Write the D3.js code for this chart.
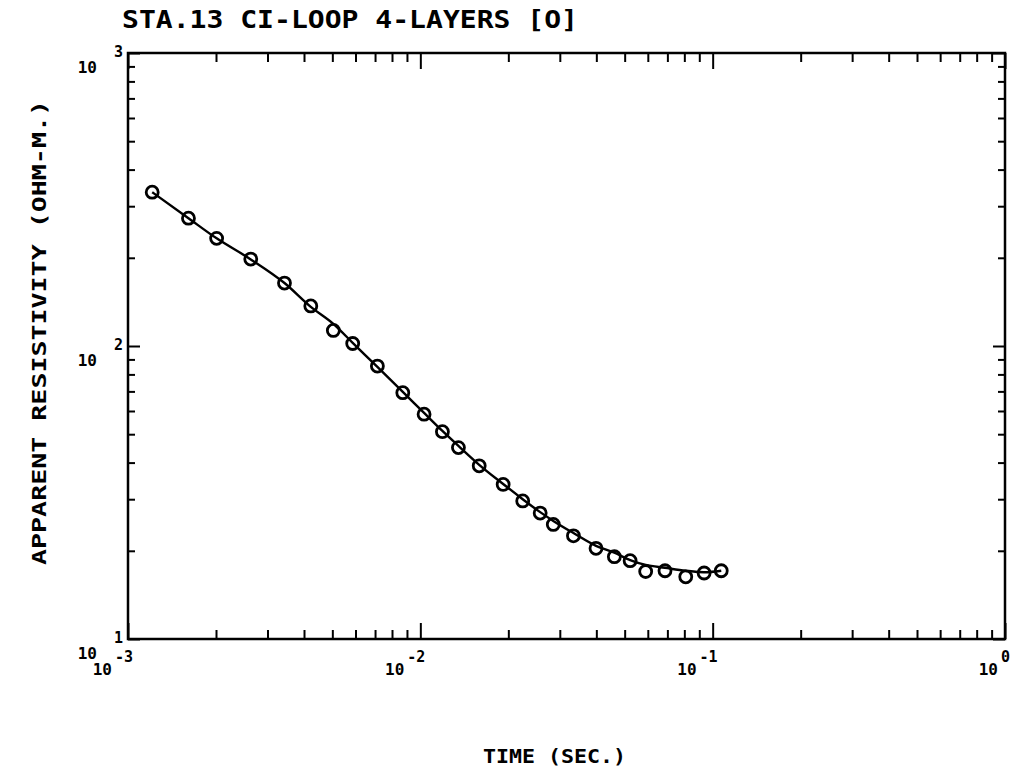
<!DOCTYPE html>
<html>
<head>
<meta charset="utf-8">
<script src="https://cdn.jsdelivr.net/npm/d3@7"></script>
<style>
  html, body { margin: 0; padding: 0; background: #fff; }
  svg { display: block; }
  text { font-family: "DejaVu Sans Mono", "Liberation Mono", monospace; font-weight: bold; fill: #000; }
</style>
</head>
<body>
<svg id="chart" width="1013" height="767"></svg>
<script>
// ---- data ----
const titleText = "STA.13 CI-LOOP 4-LAYERS [O]";
const xLabelText = "TIME (SEC.)";
const yLabelText = "APPARENT RESISTIVITY (OHM-M.)";

// observed sounding points: time (s) and apparent resistivity (ohm-m)
const obsTime = [0.00121, 0.00161, 0.00201, 0.00263, 0.00343, 0.00422, 0.00504, 0.00587, 0.00713,
                 0.00871, 0.0103, 0.0119, 0.0135, 0.0159, 0.0192, 0.0224, 0.0257, 0.0285, 0.0334,
                 0.0399, 0.0461, 0.0522, 0.0590, 0.0687, 0.0809, 0.0935, 0.107];
const obsRho  = [335, 273, 233, 198, 164, 137, 113, 102, 85.4,
                 69.3, 58.5, 51.0, 45.0, 39.0, 33.7, 29.6, 26.9, 24.6, 22.5,
                 20.4, 19.1, 18.5, 17.0, 17.1, 16.3, 16.8, 17.1];
// fitted 4-layer model curve
const fitTime = obsTime;
const fitRho  = [335, 273, 233, 197.5, 164, 136, 119, 102.5, 84.8,
                 69.7, 59.1, 51.3, 45.6, 39.3, 33.8, 30.0, 27.1, 25.3, 23.0,
                 20.8, 19.7, 18.6, 17.9, 17.5, 17.1, 16.9, 17.1];

// axis ticks
const xDecades = [1e-3, 1e-2, 1e-1, 1];
const xExponents = ["-3", "-2", "-1", "0"];
const yDecades = [10, 100, 1000];
const yExponents = ["1", "2", "3"];

// ---- layout ----
const L = 128, R = 1005, T = 53, B = 639;
const svg = d3.select("#chart");

const x = d3.scaleLog().domain([1e-3, 1]).range([L, R]);
const y = d3.scaleLog().domain([10, 1000]).range([B, T]);

function minorTicks(decades) {
  const out = [];
  for (let i = 0; i < decades.length - 1; i++)
    for (let k = 2; k <= 9; k++) out.push(decades[i] * k);
  return out;
}
const xMinor = minorTicks(xDecades);
const yMinor = minorTicks(yDecades);

function styleAxis(g) {
  g.select(".domain").remove();
  g.selectAll(".tick line").attr("stroke", "#000").attr("stroke-width", 2);
  g.selectAll(".tick text").remove();
}

// bottom / top axes (ticks pointing inward)
svg.append("g").attr("transform", `translate(0,${B})`)
  .call(d3.axisBottom(x).tickValues(xMinor).tickSize(-9).tickFormat("")).call(styleAxis);
svg.append("g").attr("transform", `translate(0,${B})`)
  .call(d3.axisBottom(x).tickValues(xDecades).tickSize(-16).tickFormat("")).call(styleAxis);
svg.append("g").attr("transform", `translate(0,${T})`)
  .call(d3.axisTop(x).tickValues(xMinor).tickSize(-9).tickFormat("")).call(styleAxis);
svg.append("g").attr("transform", `translate(0,${T})`)
  .call(d3.axisTop(x).tickValues(xDecades).tickSize(-16).tickFormat("")).call(styleAxis);
// left / right axes
svg.append("g").attr("transform", `translate(${L},0)`)
  .call(d3.axisLeft(y).tickValues(yMinor).tickSize(-7).tickFormat("")).call(styleAxis);
svg.append("g").attr("transform", `translate(${L},0)`)
  .call(d3.axisLeft(y).tickValues(yDecades).tickSize(-12).tickFormat("")).call(styleAxis);
svg.append("g").attr("transform", `translate(${R},0)`)
  .call(d3.axisRight(y).tickValues(yMinor).tickSize(-7).tickFormat("")).call(styleAxis);
svg.append("g").attr("transform", `translate(${R},0)`)
  .call(d3.axisRight(y).tickValues(yDecades).tickSize(-12).tickFormat("")).call(styleAxis);

// frame
svg.append("rect").attr("x", L).attr("y", T).attr("width", R - L).attr("height", B - T)
  .attr("fill", "none").attr("stroke", "#000").attr("stroke-width", 2.5);

// x tick labels: "10" with exponent
xDecades.forEach((v, i) => {
  const px = x(v);
  const e = svg.append("text").attr("x", px + 5).attr("y", 662)
    .attr("text-anchor", "end").attr("font-size", 15).text(xExponents[i]);
  const w = e.node().getComputedTextLength();
  svg.append("text").attr("x", px + 5 - w - 3).attr("y", 675)
    .attr("text-anchor", "end").attr("font-size", 16).text("10");
});
// y tick labels
yDecades.forEach((v, i) => {
  const py = y(v);
  svg.append("text").attr("x", 123).attr("y", py + 4)
    .attr("text-anchor", "end").attr("font-size", 15).text(yExponents[i]);
  svg.append("text").attr("x", 97).attr("y", py + 20)
    .attr("text-anchor", "end").attr("font-size", 16).text("10");
});

// title
svg.append("text").attr("x", 122).attr("y", 28).attr("font-size", 25)
  .attr("textLength", 456).attr("lengthAdjust", "spacingAndGlyphs").text(titleText);
// x axis label
svg.append("text").attr("x", 483).attr("y", 763).attr("font-size", 19)
  .attr("textLength", 143).attr("lengthAdjust", "spacingAndGlyphs").text(xLabelText);
// y axis label
svg.append("text").attr("transform", "translate(46,565) rotate(-90)")
  .attr("x", 0).attr("y", 0).attr("font-size", 19)
  .attr("textLength", 465).attr("lengthAdjust", "spacingAndGlyphs").text(yLabelText);

// fitted curve
const line = d3.line().x((d, i) => x(fitTime[i])).y(d => y(d)).curve(d3.curveMonotoneX);
svg.append("path").datum(fitRho).attr("d", line)
  .attr("fill", "none").attr("stroke", "#000").attr("stroke-width", 2.4);

// observed points
svg.append("g").selectAll("circle").data(obsRho).join("circle")
  .attr("cx", (d, i) => x(obsTime[i])).attr("cy", d => y(d)).attr("r", 6)
  .attr("fill", "none").attr("stroke", "#000").attr("stroke-width", 2.8);
</script>
</body>
</html>
